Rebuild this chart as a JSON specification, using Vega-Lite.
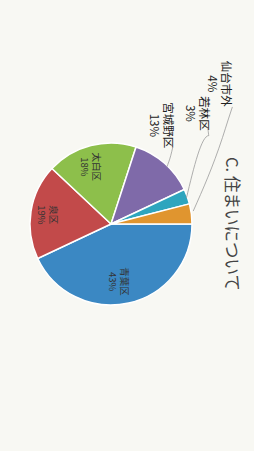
{
  "$schema": "https://vega.github.io/schema/vega-lite/v6.json",
  "width": 222,
  "height": 448,
  "padding": {"left": 0, "top": 0, "right": 16, "bottom": 3},
  "background": "#f8f8f3",
  "config": {"view": {"stroke": null}, "font": "Noto Sans CJK JP"},
  "title": {"text": "C.  住まいについて", "orient": "right", "anchor": "middle", "fontSize": 16.5, "fontWeight": "normal", "color": "#444444", "offset": -11, "font": "Noto Sans CJK JP"},
  "datasets": {
    "slices": [
      {"area": "青葉区", "pct": 43, "ord": 1, "label": "青葉区\n43%"},
      {"area": "泉区", "pct": 19, "ord": 2, "label": "泉区\n19%"},
      {"area": "太白区", "pct": 18, "ord": 3, "label": "太白区\n18%"},
      {"area": "宮城野区", "pct": 13, "ord": 4, "label": "宮城野区\n13%"},
      {"area": "若林区", "pct": 3, "ord": 5, "label": "若林区\n3%"},
      {"area": "仙台市外", "pct": 4, "ord": 6, "label": "仙台市外\n4%"}
    ],
    "outer": [
      {"area": "仙台市外", "label": "仙台市外\n4%", "u": 1.444, "v": 1.877},
      {"area": "若林区", "label": "若林区\n3%", "u": 1.16, "v": 1.481},
      {"area": "宮城野区", "label": "宮城野区\n13%", "u": 0.704, "v": 1.321}
    ],
    "leaders": [
      {"area": "仙台市外", "seq": 1, "u": 1.531, "v": 1.568},
      {"area": "仙台市外", "seq": 2, "u": 1.481, "v": 1.407},
      {"area": "仙台市外", "seq": 3, "u": 1.407, "v": 1.16},
      {"area": "仙台市外", "seq": 4, "u": 1.037, "v": 0.173},
      {"area": "若林区", "seq": 1, "u": 1.222, "v": 1.296},
      {"area": "若林区", "seq": 2, "u": 1.235, "v": 1.185},
      {"area": "若林区", "seq": 3, "u": 0.951, "v": 0.346},
      {"area": "宮城野区", "seq": 1, "u": 0.778, "v": 1.025},
      {"area": "宮城野区", "seq": 2, "u": 0.753, "v": 0.914},
      {"area": "宮城野区", "seq": 3, "u": 0.704, "v": 0.765}
    ]
  },
  "layer": [
    {
      "data": {"name": "slices"},
      "mark": {"type": "arc", "outerRadius": 81, "stroke": "#ffffff", "strokeWidth": 1.5},
      "encoding": {
        "x": {"datum": 0, "type": "quantitative", "scale": {"domain": [-1.3704, 1.3704]}, "axis": null},
        "y": {"datum": 0, "type": "quantitative", "scale": {"domain": [-2.7654, 2.7654]}, "axis": null},
        "theta": {"field": "pct", "type": "quantitative", "stack": true, "scale": {"range": [1.5708, 7.854]}},
        "color": {"field": "area", "type": "nominal", "legend": null,
          "scale": {"domain": ["青葉区", "泉区", "太白区", "宮城野区", "若林区", "仙台市外"],
                    "range": ["#3b88c3", "#c24a4a", "#8dbf4b", "#7f6aa9", "#2ea5be", "#e0952f"]}},
        "order": {"field": "ord", "type": "quantitative"}
      }
    },
    {
      "data": {"name": "slices"},
      "mark": {"type": "text", "radius": 59, "angle": 90, "fontSize": 9.5, "lineBreak": "\n", "lineHeight": 12, "color": "#333333", "align": "center", "baseline": "middle"},
      "encoding": {
        "x": {"datum": 0, "type": "quantitative"},
        "y": {"datum": 0, "type": "quantitative"},
        "theta": {"field": "pct", "type": "quantitative", "stack": true},
        "order": {"field": "ord", "type": "quantitative"},
        "text": {"condition": {"test": "datum.pct >= 15", "field": "label", "type": "nominal"}, "value": ""}
      }
    },
    {
      "data": {"name": "leaders"},
      "mark": {"type": "line", "color": "#9a9a9a", "strokeWidth": 0.8, "interpolate": "monotone"},
      "encoding": {
        "x": {"field": "u", "type": "quantitative"},
        "y": {"field": "v", "type": "quantitative"},
        "detail": {"field": "area", "type": "nominal"},
        "order": {"field": "seq", "type": "quantitative"}
      }
    },
    {
      "data": {"name": "outer"},
      "mark": {"type": "text", "angle": 90, "fontSize": 11.5, "lineBreak": "\n", "lineHeight": 14, "color": "#222222", "align": "center", "baseline": "middle"},
      "encoding": {
        "x": {"field": "u", "type": "quantitative"},
        "y": {"field": "v", "type": "quantitative"},
        "text": {"field": "label", "type": "nominal"}
      }
    }
  ]
}
